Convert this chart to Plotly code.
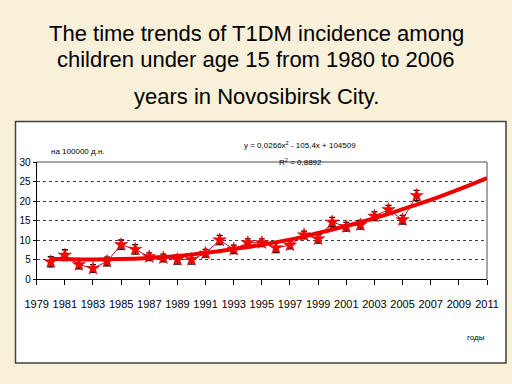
import plotly.graph_objects as go

# ---- data ----
years = list(range(1980, 2007))
incidence = [4.4, 6.1, 3.7, 2.7, 4.5, 8.8, 7.6, 5.7, 5.4, 5.0, 5.0, 6.6, 10.0, 7.6,
             9.3, 9.3, 8.0, 8.7, 11.3, 10.3, 14.6, 13.4, 13.9, 16.1, 17.8, 15.2, 21.4]
errors = [1.3, 1.4, 1.1, 1.0, 1.1, 1.2, 1.2, 1.0, 1.0, 1.2, 1.2, 1.0, 1.2, 1.1,
          1.0, 1.0, 1.2, 1.0, 1.0, 1.1, 1.2, 1.1, 1.1, 1.1, 1.1, 1.1, 1.3]
trend_years = [1980, 1983, 1985, 1987, 1989, 1991, 1993, 1995, 1997, 1999, 2001,
               2003, 2005, 2007, 2009, 2011]
trend_values = [5.2, 5.0, 5.1, 5.4, 5.9, 6.7, 7.7, 8.8, 10.1, 11.8, 13.6, 15.6,
                17.9, 20.3, 23.0, 25.9]
x_ticks = list(range(1979, 2012, 2))
y_ticks = [0, 5, 10, 15, 20, 25, 30]

title_lines = ["The time trends of T1DM incidence among",
               "children under age 15 from 1980 to 2006",
               "years in Novosibirsk City."]

W, H = 512, 384
def px(x):
    return x / W
def py(y):
    return 1 - y / H

NARROW = "Liberation Sans Narrow, Arial Narrow, Liberation Sans, sans-serif"
BG = "#f9f0d9"

fig = go.Figure()
fig.add_trace(go.Scatter(
    x=years, y=incidence, mode="lines+markers",
    line=dict(color="#b0102a", width=1),
    marker=dict(symbol="star", size=10, color="#ff0000",
                line=dict(color="#d00000", width=0.5)),
    error_y=dict(type="data", array=errors, visible=True,
                 color="#000000", thickness=1.3, width=3),
    showlegend=False, hoverinfo="x+y"))
fig.add_trace(go.Scatter(
    x=trend_years, y=trend_values, mode="lines",
    line=dict(color="#ee0000", width=4, shape="spline"),
    showlegend=False, hoverinfo="skip"))

fig.update_layout(
    width=W, height=H, autosize=False,
    margin=dict(l=0, r=0, t=0, b=0, pad=0),
    paper_bgcolor=BG, plot_bgcolor="white",
    xaxis=dict(domain=[px(36.7), px(487)], range=[1979, 2011],
               automargin=False,
               tickvals=x_ticks, ticktext=[str(v) for v in x_ticks],
               tickangle=0,
               showgrid=False, zeroline=False,
               showline=True, linecolor="#000000", linewidth=1,
               ticks="outside", ticklen=5, tickcolor="#000000",
               ticklabelstandoff=10,
               tickfont=dict(family=NARROW, size=11, color="#000000")),
    yaxis=dict(domain=[py(279), py(162)], range=[0, 30],
               automargin=False,
               tickvals=y_ticks, showgrid=True, gridcolor="#404040",
               griddash="dot", gridwidth=1, zeroline=False,
               showline=True, linecolor="#000000", linewidth=1,
               ticks="outside", ticklen=3, tickcolor="#000000",
               tickfont=dict(family=NARROW, size=10, color="#000000")),
)

shapes = [
    dict(type="rect", xref="paper", yref="paper",
         x0=px(15.5), x1=px(506), y0=py(363), y1=py(121.5),
         fillcolor="white", line=dict(color="#404040", width=1.5), layer="below"),
    dict(type="line", xref="x domain", yref="y domain", x0=0, x1=1, y0=1, y1=1,
         line=dict(color="#888888", width=1.5), layer="below"),
    dict(type="line", xref="x domain", yref="y domain", x0=1, x1=1, y0=0, y1=1,
         line=dict(color="#888888", width=1.5), layer="below"),
]
fig.update_layout(shapes=shapes)

ann = []
title_y = [34, 59, 96]
for t, yy in zip(title_lines, title_y):
    ann.append(dict(text=t, x=0.5, y=py(yy), xref="paper", yref="paper",
                    xanchor="center", yanchor="middle", showarrow=False,
                    font=dict(family="Liberation Sans, Arial, sans-serif", size=22,
                              color="#000000")))
small = [
    ("на 100000 д.н.", 78, 152),
    ("y = 0,0266x<sup>2</sup> - 105,4x + 104509", 300, 145),
    ("R<sup>2</sup> = 0,8892", 300, 162),
    ("годы", 476, 337),
]
for t, xx, yy in small:
    ann.append(dict(text=t, x=px(xx), y=py(yy), xref="paper", yref="paper",
                    xanchor="center", yanchor="middle", showarrow=False,
                    font=dict(family=NARROW, size=8, color="#000000")))
fig.update_layout(annotations=ann)

fig.write_html("out.html",
               config={"displayModeBar": False},
               post_script="document.body.style.margin='0';"
                           "document.body.style.background='" + BG + "';")
